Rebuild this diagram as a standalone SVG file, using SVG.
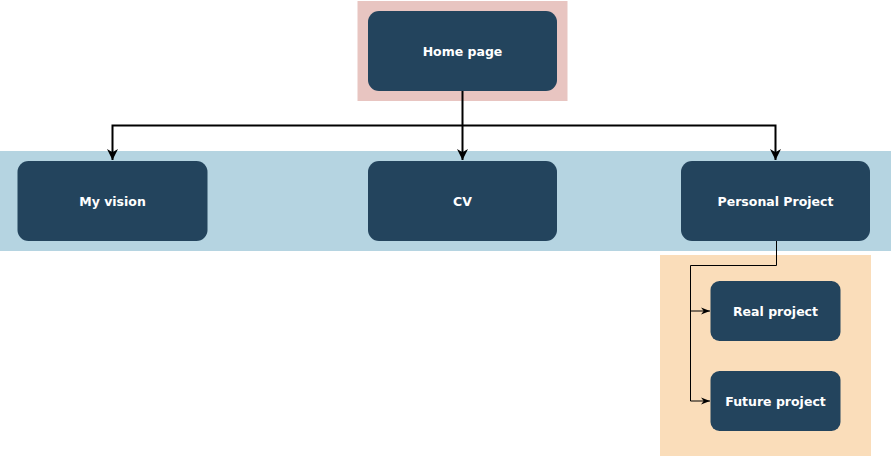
<svg xmlns="http://www.w3.org/2000/svg" width="891" height="456" viewBox="0 0 891 456">
<defs>
<style>
.node{fill:#23445D;}
.lbl{fill:#FFFFFF;font-family:"DejaVu Sans",Verdana,sans-serif;font-weight:bold;font-size:12.5px;text-anchor:middle;dominant-baseline:central;}
.thick{fill:none;stroke:#000;stroke-width:2;}
.thin{fill:none;stroke:#000;stroke-width:1;}
</style>
<marker id="ab" viewBox="0 0 10 10" refX="10" refY="5" markerWidth="11" markerHeight="11" markerUnits="userSpaceOnUse" orient="auto">
<path d="M0,0 L10,5 L0,10 L3,5 Z" fill="#000"/>
</marker>
<marker id="as" viewBox="0 0 10 10" refX="10" refY="5" markerWidth="9" markerHeight="9" markerUnits="userSpaceOnUse" orient="auto">
<path d="M0,1 L10,5 L0,9 L3,5 Z" fill="#000"/>
</marker>
</defs>
<g id="backgrounds">
<rect x="357.5" y="1" width="210" height="100" fill="#E8C5C1"/>
<rect x="0" y="151" width="891" height="100" fill="#B5D4E1"/>
<rect x="660" y="255" width="211" height="201" fill="#FADDBA"/>
</g>
<g id="connectors">
<path class="thick" d="M462.5,91 L462.5,160" marker-end="url(#ab)"/>
<path class="thick" d="M462.5,125.5 L112.5,125.5 L112.5,160" marker-end="url(#ab)"/>
<path class="thick" d="M462.5,125.5 L775.5,125.5 L775.5,160" marker-end="url(#ab)"/>
<path class="thin" d="M776.5,241 L776.5,265.5 L690.5,265.5 L690.5,311 L710,311" marker-end="url(#as)"/>
<path class="thin" d="M690.5,311 L690.5,401 L710,401" marker-end="url(#as)"/>
</g>
<g id="home">
<rect class="node" x="368" y="11" width="189" height="80" rx="11"/>
<text class="lbl" x="462.5" y="51">Home page</text>
</g>
<g id="vision">
<rect class="node" x="17.5" y="161" width="190" height="80" rx="11"/>
<text class="lbl" x="112.5" y="201">My vision</text>
</g>
<g id="cv">
<rect class="node" x="368" y="161" width="189" height="80" rx="11"/>
<text class="lbl" x="462.5" y="201">CV</text>
</g>
<g id="personal">
<rect class="node" x="681" y="161" width="189" height="80" rx="11"/>
<text class="lbl" x="775.5" y="201">Personal Project</text>
</g>
<g id="real">
<rect class="node" x="710.5" y="281" width="130" height="60" rx="9"/>
<text class="lbl" x="775.5" y="311">Real project</text>
</g>
<g id="future">
<rect class="node" x="710.5" y="371" width="130" height="60" rx="9"/>
<text class="lbl" x="775.5" y="401">Future project</text>
</g>
</svg>
